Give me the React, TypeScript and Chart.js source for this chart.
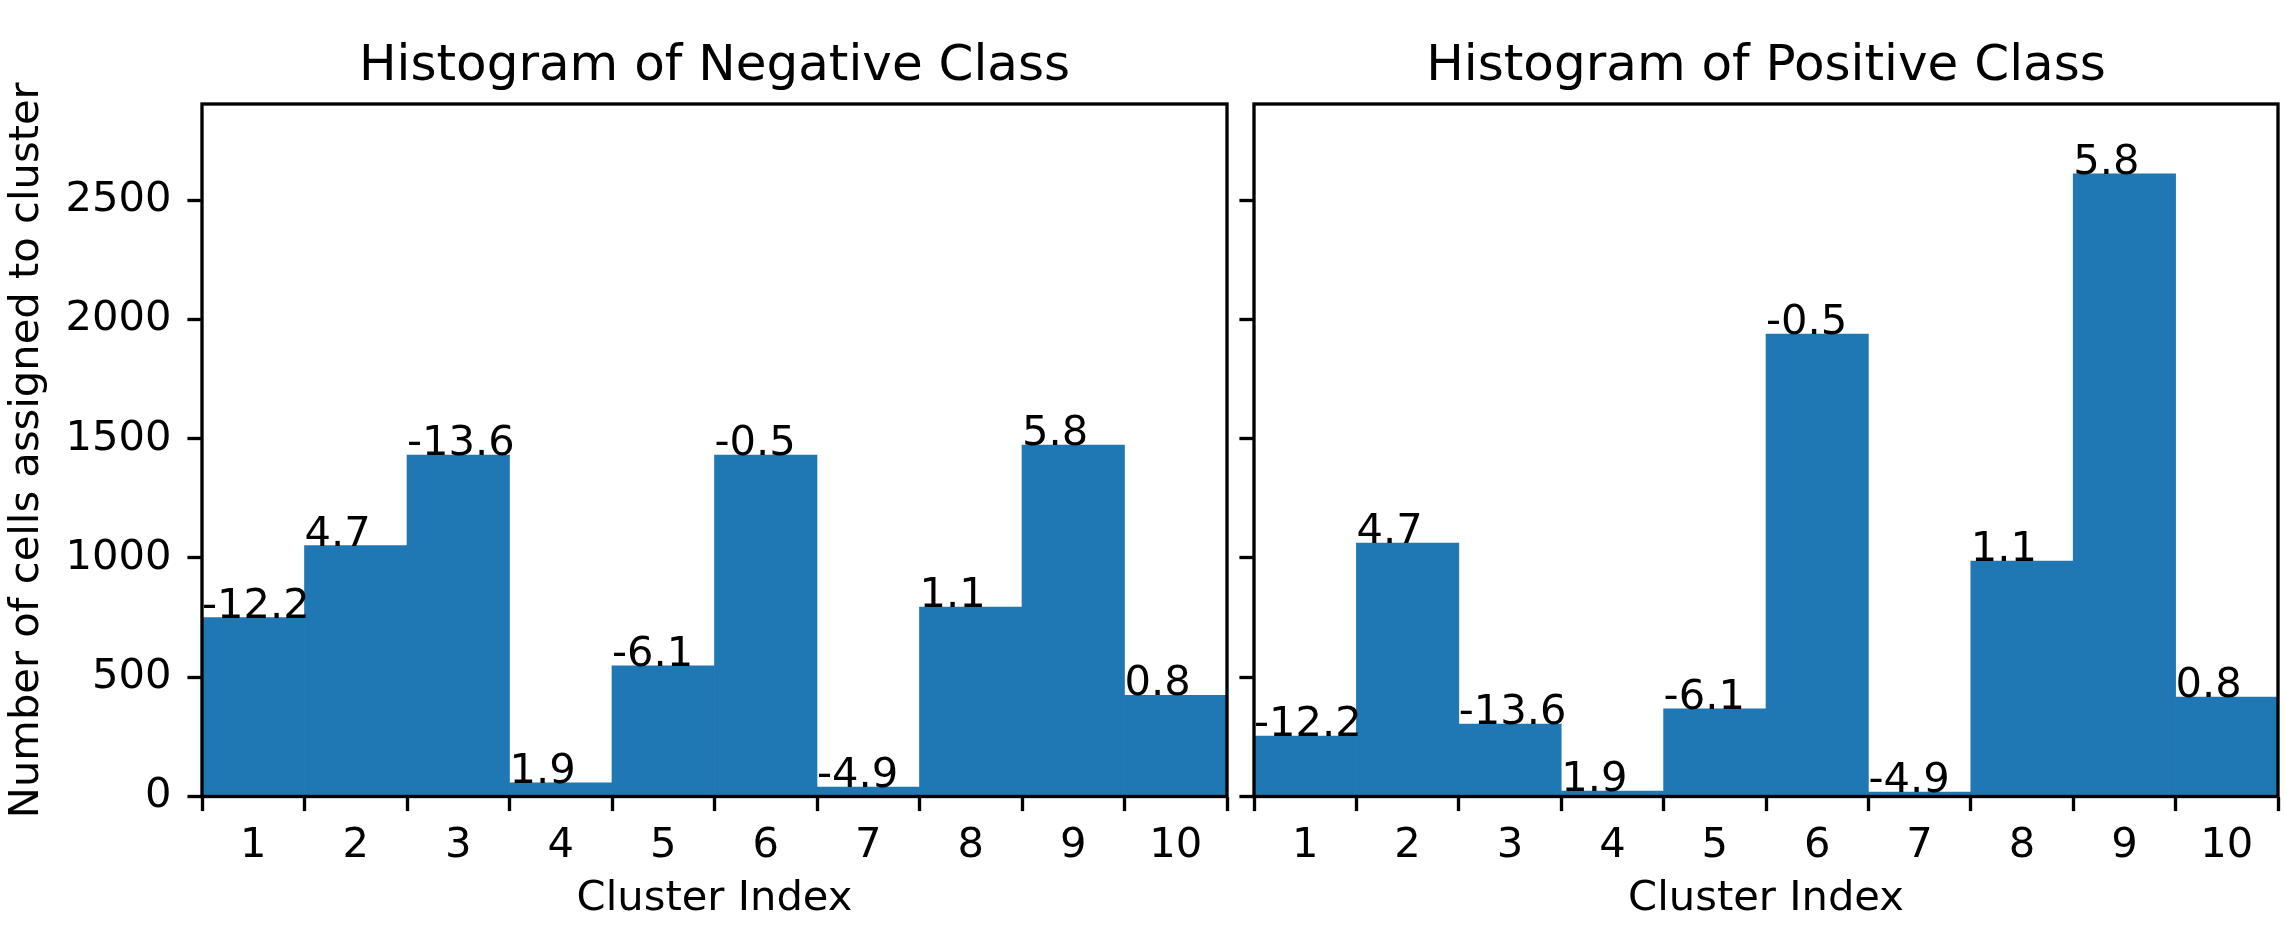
import React, { useEffect, useRef } from "react";
import { Chart, registerables } from "chart.js";

Chart.register(...registerables);

const categories = ["1", "2", "3", "4", "5", "6", "7", "8", "9", "10"];
const negativeCounts = [750, 1052, 1431, 57, 548, 1431, 40, 794, 1473, 424];
const positiveCounts = [253, 1062, 304, 23, 367, 1938, 19, 987, 2610, 417];
const barLabels = ["-12.2", "4.7", "-13.6", "1.9", "-6.1", "-0.5", "-4.9", "1.1", "5.8", "0.8"];
const yTicks = [0, 500, 1000, 1500, 2000, 2500];
const yMax = 2903;

const FONT = "'DejaVu Sans', sans-serif";
const TICK_PX = 41.67;
const TITLE_PX = 50;
const LW = 3.33;
const BLUE = "#1f77b4";

const framePlugin = {
  id: "frameAndLabels",
  afterDraw(chart: any) {
    const { ctx, chartArea } = chart;
    const opts = chart.options.plugins.frameAndLabels || {};
    ctx.save();
    // bar annotations
    const meta = chart.getDatasetMeta(0);
    ctx.fillStyle = "#000";
    ctx.font = `${TICK_PX}px ${FONT}`;
    ctx.textAlign = "left";
    ctx.textBaseline = "alphabetic";
    meta.data.forEach((el: any, i: number) => {
      const props = el.getProps(["x", "y", "width"], true);
      ctx.fillText(barLabels[i], props.x - props.width / 2, props.y);
    });
    // frame
    ctx.strokeStyle = "#000";
    ctx.lineWidth = LW;
    ctx.lineJoin = "miter";
    ctx.strokeRect(
      chartArea.left,
      chartArea.top,
      chartArea.right - chartArea.left,
      chartArea.bottom - chartArea.top
    );
    // title
    if (opts.title) {
      ctx.font = `${TITLE_PX}px ${FONT}`;
      ctx.textAlign = "center";
      ctx.textBaseline = "alphabetic";
      ctx.fillText(opts.title, (chartArea.left + chartArea.right) / 2, 80);
    }
    ctx.restore();
  },
};

function makeConfig(values: number[], title: string, showYLabels: boolean, yWidth: number, padRight: number): any {
  return {
    type: "bar",
    data: {
      labels: categories,
      datasets: [
        {
          data: values,
          backgroundColor: BLUE,
          borderWidth: 0,
          barPercentage: 1,
          categoryPercentage: 1,
        },
      ],
    },
    plugins: [framePlugin],
    options: {
      animation: false,
      responsive: false,
      devicePixelRatio: 1,
      layout: { padding: { top: 104, left: 0, right: padRight, bottom: 0 } },
      plugins: {
        legend: { display: false },
        tooltip: { enabled: false },
        title: { display: false },
        frameAndLabels: { title },
      },
      scales: {
        x: {
          type: "category",
          offset: true,
          afterFit: (s: any) => {
            s.height = 129.5;
          },
          grid: {
            display: true,
            offset: true,
            drawOnChartArea: false,
            drawTicks: true,
            tickLength: 14.6,
            tickWidth: LW,
            tickColor: "#000",
            color: "#000",
          },
          border: { display: false },
          ticks: {
            color: "#000",
            font: { family: FONT, size: TICK_PX },
            padding: 10,
            maxRotation: 0,
            autoSkip: false,
          },
          title: {
            display: true,
            text: "Cluster Index",
            color: "#000",
            font: { family: FONT, size: TICK_PX, lineHeight: 1.2 },
            padding: { top: 0, bottom: 2 },
          },
        },
        y: {
          type: "linear",
          min: 0,
          max: yMax,
          afterFit: (s: any) => {
            s.width = yWidth;
          },
          afterBuildTicks: (s: any) => {
            s.ticks = yTicks.map((v) => ({ value: v }));
          },
          grid: {
            display: true,
            drawOnChartArea: false,
            drawTicks: true,
            tickLength: 14.6,
            tickWidth: LW,
            tickColor: "#000",
            color: "#000",
          },
          border: { display: false },
          ticks: {
            color: "#000",
            font: { family: FONT, size: TICK_PX },
            padding: 16,
            callback: (v: any) => (showYLabels ? String(v) : ""),
          },
          title: {
            display: showYLabels,
            text: "Number of cells assigned to cluster",
            color: "#000",
            font: { family: FONT, size: TICK_PX, lineHeight: 1.2 },
            padding: { top: 2, bottom: 0 },
          },
        },
      },
    },
  };
}

export default function App() {
  const leftRef = useRef<HTMLCanvasElement>(null);
  const rightRef = useRef<HTMLCanvasElement>(null);

  useEffect(() => {
    document.body.style.margin = "0";
    const c1 = new Chart(leftRef.current as HTMLCanvasElement, makeConfig(negativeCounts, "Histogram of Negative Class", true, 202, 5));
    const c2 = new Chart(rightRef.current as HTMLCanvasElement, makeConfig(positiveCounts, "Histogram of Positive Class", false, 22, 8));
    return () => {
      c1.destroy();
      c2.destroy();
    };
  }, []);

  return (
    <div style={{ position: "fixed", left: 0, top: 0, width: 2286, height: 926, background: "#fff" }}>
      <canvas ref={leftRef} width={1232} height={926} style={{ position: "absolute", left: 0, top: 0, width: 1232, height: 926 }} />
      <canvas ref={rightRef} width={1054} height={926} style={{ position: "absolute", left: 1232, top: 0, width: 1054, height: 926 }} />
    </div>
  );
}
